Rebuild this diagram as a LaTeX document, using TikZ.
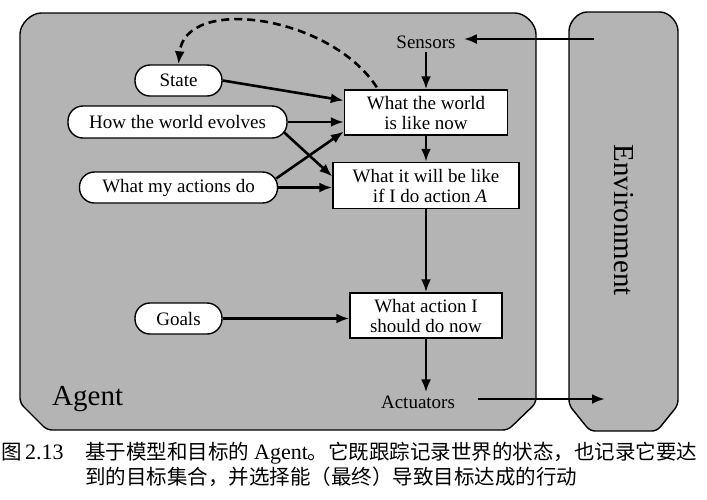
\documentclass[tikz,border=0pt]{standalone}
\usepackage{fontspec}
\setmainfont{Liberation Serif}
\newfontfamily\cjkfont{Noto Sans CJK SC}
\usetikzlibrary{arrows.meta,calc}
\definecolor{panelgray}{RGB}{180,180,180}
\begin{document}
\begin{tikzpicture}[x=1pt,y=-1pt,
  panel/.style={draw=black, line width=1.4pt, fill=panelgray, rounded corners=5pt},
  oval/.style={draw=black, fill=white, line width=1.4pt, rounded corners=15pt, minimum height=31pt, inner sep=0pt, font=\fontsize{19}{20}\selectfont},
  box/.style={draw=black, fill=white, line width=1.4pt, inner sep=0pt, minimum height=45pt, align=center, font=\fontsize{19}{20}\selectfont},
  lbl/.style={font=\fontsize{19}{20}\selectfont, inner sep=3pt},
  big/.style={font=\fontsize{29}{30}\selectfont, inner sep=0pt},
  arr/.style={-{Latex[length=13pt,width=10pt]}, line width=2.6pt},
  dasharr/.style={arr, dash pattern=on 8pt off 5pt},
  captext/.style={inner sep=0pt, anchor=base west, font=\cjkfont\fontsize{20.5}{22}\selectfont},
  capnum/.style={inner sep=0pt, anchor=base west, font=\rmfamily\fontsize{22}{24}\selectfont}
]
\useasboundingbox (0,0) rectangle (707,499);

% panels
\path[panel] (20,39) .. controls (20,24) and (31,13) .. (46,13) -- (510,13) .. controls (525,13) and (536,24) .. (536,39) -- (536,403) -- (508,430) -- (47,430) -- (20,403) -- cycle;
\path[panel] (569,36) .. controls (569,22) and (578,12) .. (592,12) -- (655,12) .. controls (669,12) and (678,22) .. (678,36) -- (678,405) -- (657,431) -- (590,431) -- (569,405) -- cycle;

% nodes
\node[lbl] (sensors) at (426,42) {Sensors};
\node[lbl] (actuators) at (418,402) {Actuators};
\node[box, minimum width=163pt] (world) at (426,112.5) {What the world\\is like now};
\node[box, minimum width=186pt, minimum height=46pt] (will) at (426,185.5) {What it will be like\\\hspace{8pt}if I do action \textit{A}};
\node[box, minimum width=152pt] (action) at (426,315.5) {What action I\\should do now};
\node[oval, minimum width=87pt] (state) at (178.5,80.5) {State};
\node[oval, minimum width=219pt, minimum height=32pt] (evolves) at (177.5,122) {How the world evolves};
\node[oval, minimum width=198pt] (actions) at (178.5,187.5) {What my actions do};
\node[oval, minimum width=87pt] (goals) at (178.5,318.5) {Goals};
\node[big, anchor=base west] (agent) at (52,405) {Agent};
\node[big, rotate=-90] (env) at (624,220) {Environment};

\coordinate (envin) at (594,39);
\coordinate (envout) at (605,399);

% connectors
\draw[arr, shorten >=5pt] (envin) -- (envin -| sensors.east);
\draw[arr] (sensors.south) -- (world.north);
\draw[arr] (state.east) -- ($(world.west)+(0,-12)$);
\draw[arr] (evolves.east) -- (evolves.east -| world.west);
\draw[arr] ($(evolves.east)+(-4,10)$) -- ($(will.west)+(0,-9)$);
\draw[arr] ($(actions.east)+(-2,-9)$) -- ($(world.west)+(0,19)$);
\draw[arr] (actions.east) -- (actions.east -| will.west);
\draw[arr] (world.south) -- (will.north);
\draw[arr] (will.south) -- (action.north);
\draw[arr] (goals.east) -- (goals.east -| action.west);
\draw[arr] (action.south) -- (action.south |- actuators.north);
\draw[arr, shorten <=20pt] (actuators.east |- envout) -- (envout);
\draw[dasharr] ($(world.north west)+(33,-2)$) .. controls (330,15) and (185,-5) .. (state.north);

% caption
\node[captext] (fig) at (1,459) {图};
\node[capnum] (fignum) at (25,459) {2.13};
\node[captext] (cap1) at (85,459) {基于模型和目标的\hspace{5pt}{\rmfamily\fontsize{22}{24}\selectfont Agent}。它既跟踪记录世界的状态，也记录它要达};
\node[captext] (cap2) at (85,484) {到的目标集合，并选择能（最终）导致目标达成的行动};
\end{tikzpicture}
\end{document}
